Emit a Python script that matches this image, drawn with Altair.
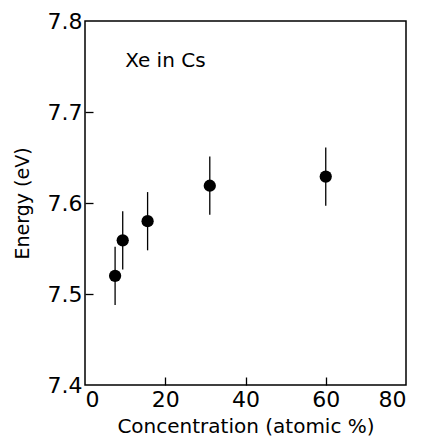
import altair as alt
import pandas as pd

conc = [7.5, 9.4, 15.6, 31.1, 60.0]
energy = [7.520, 7.559, 7.580, 7.619, 7.629]
err = [0.032, 0.032, 0.032, 0.032, 0.032]

x_label_vals = [0, 20, 40, 60, 80]
y_label_vals = [7.4, 7.5, 7.6, 7.7, 7.8]
x_tick_vals = [20, 40, 60]
y_tick_vals = [7.5, 7.6, 7.7]

note_text = ["Xe in Cs"]
note_x = [10.0]
note_y = [7.749]

df = pd.DataFrame({"conc": conc, "energy": energy, "err": err})
df["lo"] = df["energy"] - df["err"]
df["hi"] = df["energy"] + df["err"]
note_df = pd.DataFrame({"t": note_text, "x": note_x, "y": note_y})

FONT = "DejaVu Sans"
xs = alt.Scale(domain=[0, 80], nice=False, zero=False)
ys = alt.Scale(domain=[7.4, 7.8], nice=False, zero=False)

base = alt.Chart(df)

bars = base.mark_rule(color="black", strokeWidth=1.3).encode(
    x=alt.X("conc:Q", scale=xs, axis=None),
    y=alt.Y("lo:Q", scale=ys, axis=None),
    y2="hi:Q",
)

pts = base.mark_circle(color="black", opacity=1, size=150).encode(
    x=alt.X("conc:Q", scale=xs,
            axis=alt.Axis(values=x_label_vals, ticks=False, domain=False, grid=False,
                          title="Concentration (atomic %)", labelFontSize=22,
                          labelPadding=4, titleFontSize=20, titlePadding=6,
                          labelFont=FONT, titleFont=FONT, titleFontWeight="normal",
                          labelColor="black", titleColor="black")),
    y=alt.Y("energy:Q", scale=ys,
            axis=alt.Axis(values=y_label_vals, ticks=False, domain=False, grid=False,
                          title="Energy (eV)", labelFontSize=22, labelPadding=3,
                          titleFontSize=19, titlePadding=15, format=".1f",
                          labelFont=FONT, titleFont=FONT, titleFontWeight="normal",
                          labelColor="black", titleColor="black")),
)

ghost = base.mark_point(opacity=0).encode(
    x=alt.X("conc:Q", scale=xs,
            axis=alt.Axis(values=x_tick_vals, orient="bottom", offset=-8, tickSize=8,
                          labels=False, domain=False, grid=False, title=None,
                          tickColor="black", tickWidth=1.3)),
    y=alt.Y("energy:Q", scale=ys,
            axis=alt.Axis(values=y_tick_vals, orient="left", offset=-8, tickSize=8,
                          labels=False, domain=False, grid=False, title=None,
                          tickColor="black", tickWidth=1.3)),
)

note = alt.Chart(note_df).mark_text(align="left", baseline="alphabetic", fontSize=20,
                                    font=FONT, color="black").encode(
    x=alt.X("x:Q", scale=xs, axis=None),
    y=alt.Y("y:Q", scale=ys, axis=None),
    text="t:N",
)

chart = alt.layer(bars, pts, ghost, note).resolve_axis(
    x="independent", y="independent"
).properties(
    width=321, height=364,
    autosize=alt.AutoSizeParams(type="none"),
    padding={"left": 77, "top": 13, "right": 8, "bottom": 54},
).configure(background="white").configure_view(stroke="black", strokeWidth=1.5)

chart.save("out.html", embed_options={"renderer": "svg", "actions": False})
